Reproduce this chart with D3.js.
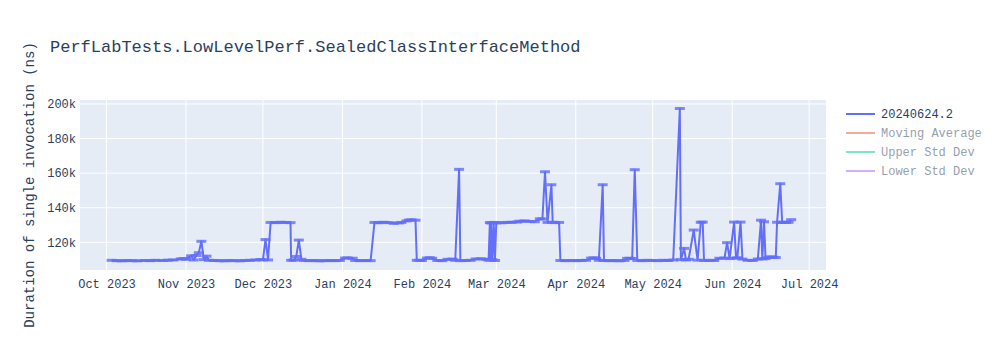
<!DOCTYPE html>
<html>
<head>
<meta charset="utf-8">
<script src="https://cdn.jsdelivr.net/npm/d3@7"></script>
<style>
  body { margin: 0; background: #fff; }
  text { font-family: "Courier New", "Liberation Mono", monospace; }
</style>
</head>
<body>
<div id="chart"></div>
<script>
const title = "PerfLabTests.LowLevelPerf.SealedClassInterfaceMethod";
const yTitle = "Duration of single invocation (ns)";
const legendNames = ["20240624.2", "Moving Average", "Upper Std Dev", "Lower Std Dev"];
const legendColors = ["#636efa", "#EF553B", "#00cc96", "#ab63fa"];
const legendVisible = [true, false, false, false];

const xTicks = ["2023-10-01", "2023-11-01", "2023-12-01", "2024-01-01", "2024-02-01",
  "2024-03-01", "2024-04-01", "2024-05-01", "2024-06-01", "2024-07-01"];
const yTicks = [120000, 140000, 160000, 180000, 200000];

const dates = [
  "2023-10-03", "2023-10-05", "2023-10-07", "2023-10-09", "2023-10-11", "2023-10-13",
  "2023-10-16", "2023-10-18", "2023-10-20", "2023-10-23", "2023-10-25", "2023-10-27",
  "2023-10-30", "2023-10-31", "2023-11-01", "2023-11-03", "2023-11-04", "2023-11-05",
  "2023-11-06", "2023-11-07", "2023-11-08", "2023-11-09", "2023-11-10", "2023-11-12",
  "2023-11-14", "2023-11-16", "2023-11-18", "2023-11-20", "2023-11-22", "2023-11-24",
  "2023-11-26", "2023-11-28", "2023-11-30", "2023-12-01", "2023-12-02", "2023-12-03",
  "2023-12-04", "2023-12-06", "2023-12-08", "2023-12-10", "2023-12-11T18:00",
  "2023-12-12", "2023-12-13", "2023-12-14", "2023-12-15", "2023-12-16", "2023-12-17",
  "2023-12-19", "2023-12-21", "2023-12-23", "2023-12-25", "2023-12-27", "2023-12-29",
  "2023-12-31", "2024-01-02", "2024-01-03", "2024-01-05", "2024-01-06", "2024-01-08",
  "2024-01-10", "2024-01-12", "2024-01-13T12:00", "2024-01-15", "2024-01-17",
  "2024-01-19", "2024-01-21", "2024-01-23", "2024-01-24", "2024-01-26", "2024-01-27",
  "2024-01-28", "2024-01-29T12:00", "2024-01-30", "2024-01-31", "2024-02-01",
  "2024-02-03", "2024-02-04", "2024-02-05", "2024-02-07", "2024-02-09", "2024-02-11",
  "2024-02-13", "2024-02-14", "2024-02-15T12:00", "2024-02-16", "2024-02-18",
  "2024-02-20", "2024-02-22", "2024-02-24", "2024-02-26", "2024-02-27",
  "2024-02-27T12:00", "2024-02-27T18:00", "2024-02-28", "2024-02-28T12:00",
  "2024-02-29", "2024-02-29T12:00", "2024-03-01", "2024-03-03", "2024-03-05",
  "2024-03-07", "2024-03-09", "2024-03-10", "2024-03-12", "2024-03-14", "2024-03-16",
  "2024-03-18", "2024-03-19", "2024-03-20", "2024-03-21", "2024-03-22T12:00",
  "2024-03-23", "2024-03-24", "2024-03-25T12:00", "2024-03-26", "2024-03-28",
  "2024-03-30", "2024-04-01", "2024-04-03", "2024-04-05", "2024-04-07", "2024-04-08",
  "2024-04-09", "2024-04-10", "2024-04-11T12:00", "2024-04-12", "2024-04-14",
  "2024-04-16", "2024-04-18", "2024-04-20", "2024-04-21", "2024-04-22", "2024-04-23",
  "2024-04-24", "2024-04-25", "2024-04-27", "2024-04-29", "2024-05-01", "2024-05-03",
  "2024-05-05", "2024-05-07", "2024-05-09", "2024-05-11T14:00", "2024-05-12",
  "2024-05-13T06:00", "2024-05-14", "2024-05-15", "2024-05-17", "2024-05-18T12:00",
  "2024-05-19T18:00", "2024-05-20T12:00", "2024-05-21", "2024-05-23", "2024-05-25",
  "2024-05-27", "2024-05-29", "2024-05-30", "2024-05-31", "2024-06-01T18:00",
  "2024-06-02T12:00", "2024-06-03", "2024-06-04T06:00", "2024-06-05", "2024-06-07",
  "2024-06-09", "2024-06-11", "2024-06-12T06:00", "2024-06-12T18:00",
  "2024-06-13T10:00", "2024-06-14", "2024-06-15", "2024-06-16", "2024-06-17",
  "2024-06-18", "2024-06-18T12:00", "2024-06-19T18:00", "2024-06-20T12:00",
  "2024-06-21", "2024-06-22", "2024-06-23", "2024-06-24"
];

const durations = [
  109600, 109400, 109300, 109500, 109400, 109300,
  109500, 109400, 109600, 109500, 109700, 109800,
  110400, 110600, 110200, 112200, 109800, 112400,
  114000, 120600, 110000, 112000, 109600, 109500,
  109400, 109300, 109500, 109400, 109300, 109500,
  109600, 109800, 110000, 109900, 121600, 109800,
  131500, 131400, 131600, 131500, 131400,
  109600, 109700, 111800, 121300, 110200, 109500,
  109400, 109500, 109300, 109400, 109500, 109400,
  109500, 110900, 111000, 110800, 109500, 109400,
  109500, 109400, 131500, 131300, 131600,
  131400, 131000, 131200, 131500, 132400, 132900,
  133000, 132800, 109600, 109600, 109500,
  110900, 111100, 110800, 109500, 109400, 110200,
  110300, 109600, 162200, 109400, 109500,
  109600, 110400, 110500, 110200, 109700,
  131400, 109800, 131200, 110000,
  131500, 109500, 131300, 131300, 131500,
  131600, 131700, 132200, 132400, 132100, 131900,
  133600, 133500, 160800, 131500, 153300,
  131600, 131400, 131500, 109500, 109400,
  109500, 109400, 109500, 109600, 110900, 111000,
  110800, 109600, 153300, 109500, 109400,
  109500, 109300, 109500, 110700, 110800, 110600,
  162000, 109500, 109400, 109600, 109500, 109400,
  109600, 109500, 109800, 197400, 110000,
  116500, 109800, 110200, 127100, 109700,
  131600, 131700, 109500, 109600, 109500,
  110800, 110900, 119800, 110600, 131700,
  110900, 111000, 131700, 110300, 109600,
  109500, 110400, 132800, 110400,
  131900, 110600, 111300, 111600, 111400,
  111200, 131600, 153900, 131500,
  131600, 131500, 131600, 133100
];

const margin = { top: 100, right: 174, bottom: 80, left: 80 };
const width = 1000 - margin.left - margin.right;
const height = 350 - margin.top - margin.bottom;

const parse = d3.isoParse;
const points = dates.map((d, i) => ({ date: parse(d), value: durations[i] }));

const svg = d3.select("#chart")
  .append("svg")
  .attr("width", 1000)
  .attr("height", 350);

svg.append("text")
  .attr("x", 50)
  .attr("y", 52)
  .attr("font-size", 17)
  .attr("fill", "#2a3f5f")
  .text(title);

const g = svg.append("g")
  .attr("transform", `translate(${margin.left},${margin.top})`);

const x = d3.scaleTime()
  .domain([new Date(2023, 8, 20, 16), new Date(2024, 6, 7, 14)])
  .range([0, width]);

const y = d3.scaleLinear()
  .domain([104000, 202300])
  .range([height, 0]);

g.append("rect")
  .attr("width", width)
  .attr("height", height)
  .attr("fill", "#e5ecf6");

// grid
g.selectAll(".xgrid")
  .data(xTicks.map(parse))
  .enter().append("line")
  .attr("x1", d => x(d)).attr("x2", d => x(d))
  .attr("y1", 0).attr("y2", height)
  .attr("stroke", "#fff").attr("stroke-width", 1);

g.selectAll(".ygrid")
  .data(yTicks)
  .enter().append("line")
  .attr("x1", 0).attr("x2", width)
  .attr("y1", d => y(d)).attr("y2", d => y(d))
  .attr("stroke", "#fff").attr("stroke-width", 1);

// axes
const xAxis = d3.axisBottom(x)
  .tickValues(xTicks.map(parse))
  .tickFormat(d3.timeFormat("%b %Y"))
  .tickSize(0)
  .tickPadding(9);

const yAxis = d3.axisLeft(y)
  .tickValues(yTicks)
  .tickFormat(d => d / 1000 + "k")
  .tickSize(0)
  .tickPadding(4);

const xg = g.append("g")
  .attr("transform", `translate(0,${height})`)
  .call(xAxis);
const yg = g.append("g").call(yAxis);

[xg, yg].forEach(a => {
  a.select(".domain").remove();
  a.selectAll("text")
    .attr("font-size", 12)
    .attr("fill", "#2a3f5f")
    .style("font-family", '"Courier New", "Liberation Mono", monospace');
});

svg.append("text")
  .attr("transform", `translate(34,${margin.top + height / 2}) rotate(-90)`)
  .attr("text-anchor", "middle")
  .attr("font-size", 14)
  .attr("fill", "#2a3f5f")
  .text(yTitle);

// series
const plot = g.append("g");

plot.append("path")
  .datum(points)
  .attr("fill", "none")
  .attr("stroke", "#636efa")
  .attr("stroke-width", 2)
  .attr("stroke-linejoin", "round")
  .attr("d", d3.line().x(d => x(d.date)).y(d => y(d.value)));

// short horizontal markers on each run
plot.selectAll(".cap")
  .data(points)
  .enter().append("line")
  .attr("x1", d => x(d.date) - 5)
  .attr("x2", d => x(d.date) + 5)
  .attr("y1", d => y(d.value))
  .attr("y2", d => y(d.value))
  .attr("stroke", "#636efa")
  .attr("stroke-width", 3)
  .attr("opacity", 0.8);

// legend
const legend = svg.append("g")
  .attr("transform", "translate(846,114)");

const item = legend.selectAll(".item")
  .data(legendNames)
  .enter().append("g")
  .attr("transform", (d, i) => `translate(0,${i * 19})`)
  .attr("opacity", (d, i) => legendVisible[i] ? 1 : 0.5);

item.append("line")
  .attr("x1", 0).attr("x2", 29)
  .attr("stroke", (d, i) => legendColors[i])
  .attr("stroke-width", 2);

item.append("text")
  .attr("x", 35)
  .attr("y", 4)
  .attr("font-size", 12)
  .attr("fill", "#2a3f5f")
  .text(d => d);
</script>
</body>
</html>
